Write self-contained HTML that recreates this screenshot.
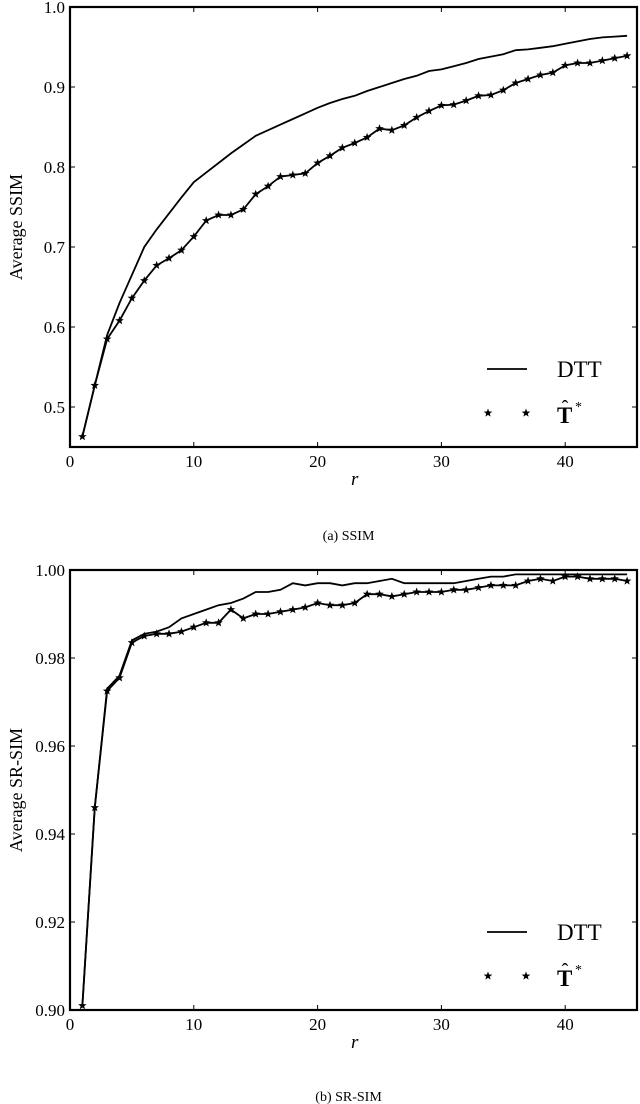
<!DOCTYPE html>
<html><head><meta charset="utf-8"><style>
html,body{margin:0;padding:0;background:#fff;}
svg{display:block;font-family:"Liberation Serif",serif;}
</style></head><body>
<svg id="c" width="640" height="1104" viewBox="0 0 640 1104" xmlns="http://www.w3.org/2000/svg"></svg>
<script>
const rVals=[];for(let i=1;i<=45;i++)rVals.push(i);
const ssimDTT=[0.463,0.527,0.59,0.63,0.665,0.70,0.722,0.742,0.762,0.781,0.793,0.805,0.817,0.828,0.839,0.846,0.853,0.86,0.867,0.874,0.88,0.885,0.889,0.895,0.9,0.905,0.91,0.914,0.92,0.922,0.926,0.93,0.935,0.938,0.941,0.946,0.947,0.949,0.951,0.954,0.957,0.96,0.962,0.963,0.964];
const ssimT=[0.463,0.527,0.585,0.608,0.636,0.658,0.677,0.686,0.696,0.713,0.733,0.74,0.74,0.747,0.766,0.776,0.788,0.79,0.792,0.805,0.814,0.824,0.83,0.837,0.848,0.846,0.852,0.862,0.87,0.877,0.878,0.883,0.889,0.89,0.896,0.905,0.91,0.915,0.918,0.927,0.93,0.93,0.933,0.936,0.939];
const srDTT=[0.901,0.946,0.973,0.976,0.984,0.9855,0.986,0.987,0.989,0.990,0.991,0.992,0.9925,0.9935,0.995,0.995,0.9955,0.997,0.9965,0.997,0.997,0.9965,0.997,0.997,0.9975,0.998,0.997,0.997,0.997,0.997,0.997,0.9975,0.998,0.9985,0.9985,0.999,0.999,0.999,0.999,0.999,0.999,0.999,0.999,0.999,0.999];
const srT=[0.901,0.946,0.9725,0.9755,0.9835,0.985,0.9855,0.9855,0.986,0.987,0.988,0.988,0.991,0.989,0.990,0.990,0.9905,0.991,0.9915,0.9925,0.992,0.992,0.9925,0.9945,0.9945,0.994,0.9945,0.995,0.995,0.995,0.9955,0.9955,0.996,0.9965,0.9965,0.9965,0.9975,0.998,0.9975,0.9985,0.9985,0.998,0.998,0.998,0.9975];
const xTicks=[0,10,20,30,40];
const ssimTicks=[0.5,0.6,0.7,0.8,0.9,1.0];
const ssimTickLabels=["0.5","0.6","0.7","0.8","0.9","1.0"];
const srTicks=[0.90,0.92,0.94,0.96,0.98,1.00];
const srTickLabels=["0.90","0.92","0.94","0.96","0.98","1.00"];

const svg=document.getElementById('c');
const NS='http://www.w3.org/2000/svg';
function mk(tag,attrs,parent){const e=document.createElementNS(NS,tag);for(const k in attrs)e.setAttribute(k,attrs[k]);(parent||svg).appendChild(e);return e;}
function starPath(cx,cy,R){const r=R*0.42;let d='';for(let i=0;i<10;i++){const a=-Math.PI/2+i*Math.PI/5;const rr=i%2?r:R;d+=(i?'L':'M')+(cx+rr*Math.cos(a)).toFixed(2)+' '+(cy+rr*Math.sin(a)).toFixed(2);}return d+'Z';}

function chart(o){
  const L=70,R=637,T=o.top,B=o.bottom,xmin=0,xmax=45.8;
  const X=v=>L+(v-xmin)/(xmax-xmin)*(R-L);
  const Y=v=>B-(v-o.ymin)/(o.ymax-o.ymin)*(B-T);
  const g=mk('g',{});
  
  
  xTicks.forEach(t=>{
    const x=X(t);
    mk('line',{x1:x,y1:B,x2:x,y2:B-5,stroke:'#000','stroke-width':1},g);
    mk('line',{x1:x,y1:T,x2:x,y2:T+5,stroke:'#000','stroke-width':1},g);
    const tx=mk('text',{x:x,y:B+20,'text-anchor':'middle','font-size':17},g);
    tx.textContent=t;
    
    
  });
  o.ticks.forEach((t,i)=>{
    const y=Y(t);
    mk('line',{x1:L,y1:y,x2:L+5,y2:y,stroke:'#000','stroke-width':1},g);
    mk('line',{x1:R,y1:y,x2:R-5,y2:y,stroke:'#000','stroke-width':1},g);
    const tx=mk('text',{x:L-5,y:y+6,'text-anchor':'end','font-size':17},g);
    tx.textContent=o.labels[i];
    
    
  });
  const p1=mk('polyline',{points:rVals.map((r,i)=>X(r)+','+Y(o.dtt[i])).join(' '),fill:'none',stroke:'#000','stroke-width':1.8},g);
  
  
  const p2=mk('polyline',{points:rVals.map((r,i)=>X(r)+','+Y(o.t[i])).join(' '),fill:'none',stroke:'#000','stroke-width':1.8},g);
  
  
  rVals.forEach((r,i)=>{
    const s=mk('path',{d:starPath(X(r),Y(o.t[i]),4.5),fill:'#000'},g);
    
    
  });
  const fr=mk('rect',{x:L,y:T,width:R-L,height:B-T,fill:'none',stroke:'#000','stroke-width':2.2},g);
  
  
  const yl=mk('text',{x:0,y:0,'text-anchor':'middle','font-size':18,transform:`translate(22,${(T+B)/2}) rotate(-90)`},g);
  yl.textContent=o.ylabel;
  
  
  const xl=mk('text',{x:X(23),y:B+38,'text-anchor':'middle','font-size':19,'font-style':'italic'},g);
  xl.textContent='r';
  
  
  const lg=mk('g',{},g);
  
  
  const ly1=B-78,ly2=B-34;
  mk('line',{x1:487,y1:ly1,x2:527,y2:ly1,stroke:'#000','stroke-width':1.8},lg);
  const t1=mk('text',{x:557,y:ly1+8,'font-size':23},lg);t1.textContent='DTT';
  
  
  mk('path',{d:starPath(488,ly2,4.5),fill:'#000'},lg);
  mk('path',{d:starPath(526,ly2,4.5),fill:'#000'},lg);
  const t2=mk('text',{x:557,y:ly2+10,'font-size':23,'font-weight':'bold'},lg);t2.textContent='T';
  
  
  const th=mk('text',{x:565,y:ly2+1,'text-anchor':'middle','font-size':20},lg);th.textContent='ˆ';
  const t3=mk('text',{x:575,y:ly2-2,'font-size':14},lg);t3.textContent='*';
  const cap=mk('text',{x:X(22.5),y:o.capY,'text-anchor':'middle','font-size':14},g);
  cap.textContent=o.caption;
  
  
}
chart({name:'ssim-chart',top:7,bottom:447,ymin:0.45,ymax:1.0,ticks:ssimTicks,labels:ssimTickLabels,dtt:ssimDTT,t:ssimT,ylabel:'Average SSIM',caption:'(a)  SSIM',capY:540});
chart({name:'srsim-chart',top:570,bottom:1010,ymin:0.90,ymax:1.00,ticks:srTicks,labels:srTickLabels,dtt:srDTT,t:srT,ylabel:'Average SR-SIM',caption:'(b)  SR-SIM',capY:1101});
</script>
</body></html>
